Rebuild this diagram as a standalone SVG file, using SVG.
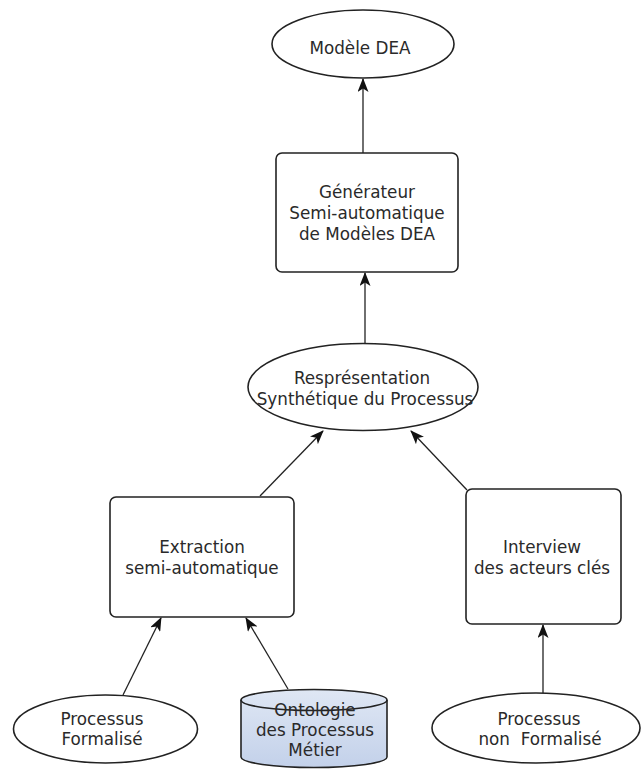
<svg xmlns="http://www.w3.org/2000/svg" width="641" height="769" viewBox="0 0 641 769">
<style>
.shape{fill:#fff;stroke:#222;stroke-width:1.6}
.conn{fill:none;stroke:#222;stroke-width:1.3;marker-end:url(#ah)}
text{font-family:"DejaVu Sans","Liberation Sans",sans-serif;font-size:16.8px;fill:#2a2a2a;text-anchor:middle;white-space:pre}
</style>
<defs>
<marker id="ah" viewBox="0 0 14 11" refX="13" refY="5.5" markerWidth="14" markerHeight="11" markerUnits="userSpaceOnUse" orient="auto">
<path d="M0,0 L14,5.5 L0,11 L3.5,5.5 z" fill="#111"/>
</marker>
<linearGradient id="cyl" x1="0" y1="0" x2="0" y2="1">
<stop offset="0" stop-color="#dfe7f4"/>
<stop offset="1" stop-color="#c3d1ea"/>
</linearGradient>
</defs>
<g id="connectors">
<line class="conn" x1="363" y1="153" x2="363" y2="79"/>
<line class="conn" x1="365" y1="343" x2="365" y2="273"/>
<line class="conn" x1="260" y1="496" x2="323" y2="431"/>
<line class="conn" x1="467" y1="490" x2="411" y2="431"/>
<line class="conn" x1="123" y1="695" x2="161" y2="618"/>
<line class="conn" x1="288" y1="689" x2="246" y2="618"/>
<line class="conn" x1="543" y1="693" x2="543" y2="625"/>
</g>
<g id="modele-dea">
<ellipse class="shape" cx="363" cy="44" rx="91" ry="34"/>
<text x="360" y="54">Modèle DEA</text>
</g>
<g id="generateur">
<rect class="shape" x="276" y="153" width="182" height="119" rx="6"/>
<text x="367" y="198">Générateur</text>
<text x="367" y="219">Semi-automatique</text>
<text x="367" y="240">de Modèles DEA</text>
</g>
<g id="representation">
<ellipse class="shape" cx="363" cy="387" rx="115" ry="43.5"/>
<text x="362" y="384">Resprésentation</text>
<text x="365" y="405">Synthétique du Processus</text>
</g>
<g id="extraction">
<rect class="shape" x="110" y="497" width="184" height="120" rx="6"/>
<text x="202" y="553">Extraction</text>
<text x="202" y="574">semi-automatique</text>
</g>
<g id="interview">
<rect class="shape" x="466" y="489" width="155" height="135" rx="6"/>
<text x="542" y="553">Interview</text>
<text x="542" y="574">des acteurs clés</text>
</g>
<g id="processus-formalise">
<ellipse class="shape" cx="105.5" cy="729" rx="92" ry="34"/>
<text x="102" y="725">Processus</text>
<text x="102" y="745">Formalisé</text>
</g>
<g id="ontologie">
<path d="M241,700 L241,757 A73,10.5 0 0 0 387,757 L387,700 A73,10.5 0 0 0 241,700 z" fill="url(#cyl)" stroke="#222" stroke-width="1.6"/>
<path d="M241,700 A73,10.5 0 0 0 387,700" fill="none" stroke="#222" stroke-width="1.6"/>
<text x="315" y="716">Ontologie</text>
<text x="315" y="736">des Processus</text>
<text x="315" y="756">Métier</text>
</g>
<g id="processus-non-formalise">
<ellipse class="shape" cx="536" cy="728" rx="104" ry="35"/>
<text x="539" y="725">Processus</text>
<text x="540" y="745">non  Formalisé</text>
</g>
</svg>
